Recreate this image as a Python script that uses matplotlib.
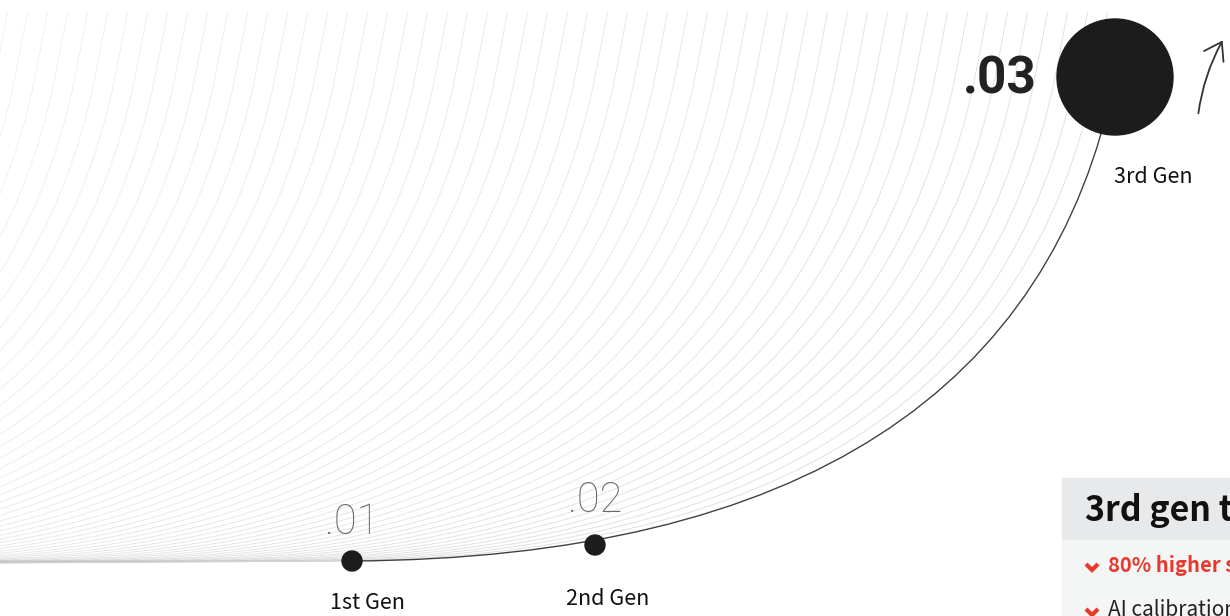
import numpy as np
import matplotlib
matplotlib.use("Agg")
import matplotlib.pyplot as plt
from matplotlib.path import Path
from matplotlib.patches import PathPatch, Rectangle, Circle, FancyArrowPatch
import matplotlib.transforms as mtransforms

# generations along the growth curve
gen_labels = ["1st Gen", "2nd Gen", "3rd Gen"]
gen_values = [".01", ".02", ".03"]
gen_x = [352, 595, 1115]
gen_y = [561, 545, 77]
gen_radius = [10, 10, 58]

# growth curve: flat lead-in, then one bezier from 1st gen to 3rd gen, then on to the top
lead_x = [-1500, 0]
lead_y = [563, 563]
ctrl_x = [802, 1052]
ctrl_y = [558, 390]
tail_x = [1129]
tail_y = [5]

# background fan of shifted curves
n_lines = 58
shift = 20

box_title = "3rd gen technology"
box_items = ["80% higher sensitivity", "AI calibration technology"]

verts = list(zip(lead_x, lead_y)) + [(gen_x[0], gen_y[0])] + list(zip(ctrl_x, ctrl_y)) \
    + [(gen_x[2], gen_y[2])] + list(zip(tail_x, tail_y))
codes = [Path.MOVETO] + [Path.LINETO] * len(lead_x) + [Path.CURVE4] * 3 + [Path.LINETO] * len(tail_x)
path = Path(verts, codes)

fig = plt.figure(figsize=(12.3, 6.16), dpi=100)
ax = fig.add_axes([0, 0, 1, 1])
ax.set_xlim(0, 1230)
ax.set_ylim(616, 0)
ax.axis("off")

# faint fan lines
top_clip = Rectangle((0, 12), 1230, 604, transform=ax.transData)
for k in range(n_lines, 0, -1):
    tr = mtransforms.Affine2D().translate(-k * shift, 0) + ax.transData
    a = 0.6 - 0.35 * k / n_lines
    p = PathPatch(path, facecolor="none", edgecolor="#c4c4c4", lw=0.6, alpha=a, transform=tr)
    ax.add_patch(p)
    p.set_clip_path(top_clip)

# faint part of the main curve left of 1st gen
p = PathPatch(path, facecolor="none", edgecolor="#d4d4d4", lw=0.8)
ax.add_patch(p)
p.set_clip_path(Rectangle((0, 12), gen_x[0], 604, transform=ax.transData))

# dark main curve
p = PathPatch(path, facecolor="none", edgecolor="#404040", lw=1.0)
ax.add_patch(p)
p.set_clip_path(Rectangle((gen_x[0], gen_y[2]), 1230, 616, transform=ax.transData))

# generation dots
for x, y, r in zip(gen_x, gen_y, gen_radius):
    ax.add_patch(Circle((x, y), r, color="#1c1c1c", zorder=5))

# value labels
ax.text(gen_x[0], 522, gen_values[0], ha="center", va="center", fontsize=30,
        family="Roboto", fontweight="light", color="#6a6a6a")
ax.text(gen_x[1], 501, gen_values[1], ha="center", va="center", fontsize=30,
        family="Roboto", fontweight="light", color="#6a6a6a")
ax.text(1037, 80, gen_values[2], ha="right", va="center", fontsize=37,
        family="Roboto", fontweight="bold", color="#222222")

# generation names
ax.text(gen_x[0] + 15, 603, gen_labels[0], ha="center", va="center", fontsize=15.5,
        family="Noto Sans CJK KR", color="#111111")
ax.text(gen_x[1] + 13, 599, gen_labels[1], ha="center", va="center", fontsize=15.5,
        family="Noto Sans CJK KR", color="#111111")
ax.text(gen_x[2] + 38, 177, gen_labels[2], ha="center", va="center", fontsize=15.5,
        family="Noto Sans CJK KR", color="#111111")

# arrow at top right
arr = FancyArrowPatch((1198, 116), (1224, 38), connectionstyle="arc3,rad=-0.1",
                      arrowstyle="->,head_length=12,head_width=8", color="#333333", lw=1.3)
ax.add_patch(arr)

# info box
ax.add_patch(Rectangle((1062, 478), 200, 62, color="#e8e9eb", zorder=6))
ax.add_patch(Rectangle((1062, 540), 200, 80, color="#f4f5f5", zorder=6))
ax.text(1085, 510, box_title, ha="left", va="center", fontsize=24.5, fontweight="bold",
        family="Noto Sans CJK KR", color="#111111", zorder=7)
ax.text(1108, 565, box_items[0], ha="left", va="center", fontsize=14.5, fontweight="bold",
        family="Noto Sans CJK KR", color="#e8392c", zorder=7)
ax.text(1108, 610, box_items[1], ha="left", va="center", fontsize=15,
        family="Noto Sans CJK KR", color="#222222", zorder=7)
for yy in [567, 612]:
    ax.plot([1086, 1092, 1098], [yy - 3, yy + 3, yy - 3], color="#e8392c", lw=3,
            solid_capstyle="butt", solid_joinstyle="miter", zorder=7)

fig.savefig("out.png", dpi=100)
